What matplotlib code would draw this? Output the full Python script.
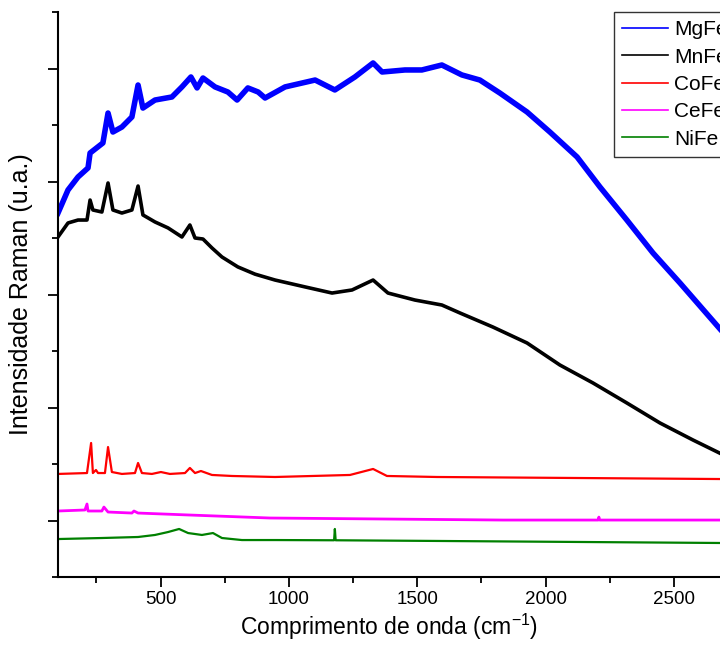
import matplotlib
matplotlib.use("Agg")
import matplotlib.pyplot as plt
from matplotlib.ticker import MultipleLocator

plt.rcParams["font.family"] = ["Liberation Sans", "DejaVu Sans"]

# Raman shift (cm-1) / intensity (a.u.)
mg_x = [100, 139, 178, 217, 225, 275, 295, 314, 349, 388, 412, 431, 478, 544, 583, 618, 642,
        665, 712, 762, 798, 840, 880, 907, 985, 1102, 1179, 1257, 1328, 1363, 1452, 1518, 1596,
        1674, 1744, 1822, 1928, 2017, 2123, 2212, 2317, 2419, 2524, 2680]
mg_y = [3221, 3425, 3540, 3620, 3752, 3841, 4106, 3938, 3982, 4071, 4354, 4150, 4221, 4248, 4337,
        4425, 4328, 4416, 4337, 4292, 4221, 4328, 4292, 4239, 4337, 4398, 4310, 4425, 4549, 4469,
        4487, 4487, 4531, 4443, 4398, 4283, 4115, 3938, 3717, 3452, 3159, 2867, 2602, 2195]

mn_x = [100, 139, 178, 213, 225, 236, 271, 295, 314, 349, 388, 412, 431, 478, 529, 583, 614,
        634, 665, 700, 739, 801, 868, 946, 1063, 1168, 1246, 1328, 1386, 1491, 1596, 1667, 1795,
        1928, 2056, 2185, 2317, 2446, 2575, 2680]
mn_y = [3009, 3133, 3159, 3159, 3336, 3248, 3230, 3487, 3248, 3221, 3248, 3460, 3204, 3142, 3089,
        3009, 3115, 3000, 2991, 2912, 2832, 2744, 2680, 2628, 2567, 2513, 2540, 2628, 2513, 2451,
        2407, 2336, 2212, 2071, 1876, 1717, 1540, 1363, 1212, 1095]

co_x = [100, 213, 229, 236, 248, 256, 283, 295, 310, 349, 400, 412, 427, 466, 501, 536, 595, 614,
        634, 657, 700, 778, 946, 1238, 1328, 1382, 1577, 2680]
co_y = [912, 920, 1186, 920, 947, 920, 920, 1150, 929, 912, 920, 1009, 920, 912, 929, 912, 920,
        965, 920, 938, 903, 894, 885, 903, 956, 894, 885, 867]

ce_x = [100, 205, 213, 217, 271, 279, 295, 388, 396, 412, 607, 926, 1834, 2205, 2208, 2211, 2680]
ce_y = [584, 593, 646, 584, 584, 619, 575, 566, 584, 566, 549, 522, 504, 504, 530, 504, 504]

ni_x = [100, 271, 412, 478, 529, 572, 607, 661, 704, 739, 817, 946, 1176, 1179, 1182, 1577, 2680]
ni_y = [336, 345, 354, 372, 398, 425, 389, 372, 389, 345, 327, 327, 325, 425, 325, 319, 301]

fig = plt.figure(figsize=(7.2, 6.65), dpi=100)
ax = fig.add_axes([58 / 720, 1 - 577 / 665, 1 - 58 / 720, 565 / 665])

ax.plot(mg_x, mg_y, color="#0000ff", lw=4, label="MgFe")
ax.plot(mn_x, mn_y, color="black", lw=2.6, label="MnFe")
ax.plot(co_x, co_y, color="#ff0000", lw=1.6, label="CoFe")
ax.plot(ce_x, ce_y, color="#ff00ff", lw=2.0, label="CeFe")
ax.plot(ni_x, ni_y, color="#008000", lw=1.6, label="NiFe")

ax.set_xlim(100, 2680)
ax.set_ylim(0, 5000)

for side in ["top", "right"]:
    ax.spines[side].set_visible(False)
for side in ["left", "bottom"]:
    ax.spines[side].set_linewidth(1.5)

ax.xaxis.set_major_locator(MultipleLocator(500))
ax.xaxis.set_minor_locator(MultipleLocator(250))
ax.set_yticks([500, 1500, 2500, 3500, 4500])
ax.set_yticks([0, 1000, 2000, 3000, 4000, 5000], minor=True)
ax.set_yticklabels([])
ax.tick_params(which="major", length=7, width=1.3, labelsize=13.5, pad=3)
ax.tick_params(which="minor", length=4, width=1.3)

ax.set_xlabel("Comprimento de onda (cm$^{\\mathregular{-1}}$)", fontsize=16.5, labelpad=3)
ax.set_ylabel("Intensidade Raman (u.a.)", fontsize=18, labelpad=8)

leg = ax.legend(loc="upper left", bbox_to_anchor=(0.84, 1.0), fontsize=15, frameon=True,
                fancybox=False, edgecolor="black", borderpad=0.4, labelspacing=0.4,
                handlelength=2.2, handletextpad=0.3, borderaxespad=0)
leg.get_frame().set_linewidth(1.0)
for h in leg.get_lines():
    h.set_linewidth(1.2)

fig.savefig("out.png", dpi=100)
